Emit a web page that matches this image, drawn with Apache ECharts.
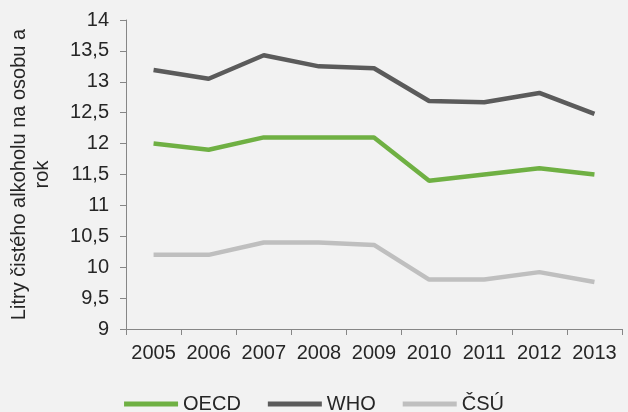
<!DOCTYPE html>
<html><head><meta charset="utf-8">
<script src="https://cdn.jsdelivr.net/npm/echarts@6/dist/echarts.min.js"></script>
<style>html,body{margin:0;padding:0;background:#f2f2f2}#c{width:628px;height:412px}</style>
</head><body><div id="c"></div>
<script>
var years = ['2005','2006','2007','2008','2009','2010','2011','2012','2013'];
var oecd = [12.0, 11.9, 12.1, 12.1, 12.1, 11.4, 11.5, 11.6, 11.5];
var who = [13.19, 13.05, 13.43, 13.25, 13.22, 12.69, 12.67, 12.82, 12.48];
var csu = [10.2, 10.2, 10.4, 10.4, 10.36, 9.8, 9.8, 9.92, 9.76];
var yName = 'Litry čistého alkoholu na osobu a\nrok';

var font = 'Liberation Sans, Arial, sans-serif';
var chart = echarts.init(document.getElementById('c'));
function ser(name, data, color) {
  return {name: name, type: 'line', data: data, symbol: 'none', smooth: false,
    lineStyle: {color: color, width: 4.5}, itemStyle: {color: color}};
}
chart.setOption({
  backgroundColor: '#f2f2f2',
  animation: false,
  textStyle: {fontFamily: font},
  grid: {left: 122, right: 6, top: 20, bottom: 83, containLabel: false},
  legend: {
    top: 389, left: 'center', itemWidth: 54, itemHeight: 5, itemGap: 27,
    icon: 'rect',
    textStyle: {fontSize: 20, color: '#262626', fontFamily: font},
    data: ['OECD', 'WHO', 'ČSÚ']
  },
  xAxis: {
    type: 'category', data: years, boundaryGap: true,
    axisLine: {lineStyle: {color: '#868686'}},
    axisTick: {show: true, alignWithLabel: false, interval: 0, length: 6, lineStyle: {color: '#868686'}},
    axisLabel: {fontSize: 20, color: '#262626', margin: 14, interval: 0, hideOverlap: false, fontFamily: font},
    splitLine: {show: false}
  },
  yAxis: {
    type: 'value', min: 9, max: 14, interval: 0.5,
    name: yName, nameLocation: 'middle', nameGap: 72,
    nameTextStyle: {fontSize: 20, color: '#262626', fontFamily: font, lineHeight: 23},
    axisLine: {show: true, lineStyle: {color: '#868686'}},
    axisTick: {show: true, length: 6, lineStyle: {color: '#868686'}},
    axisLabel: {fontSize: 20, color: '#262626', margin: 17, fontFamily: font,
      formatter: function(v){ return String(v).replace('.', ','); }},
    splitLine: {show: false}
  },
  series: [ser('OECD', oecd, '#6fb043'), ser('WHO', who, '#5b5b5b'), ser('ČSÚ', csu, '#bfbfbf')]
});
</script></body></html>
